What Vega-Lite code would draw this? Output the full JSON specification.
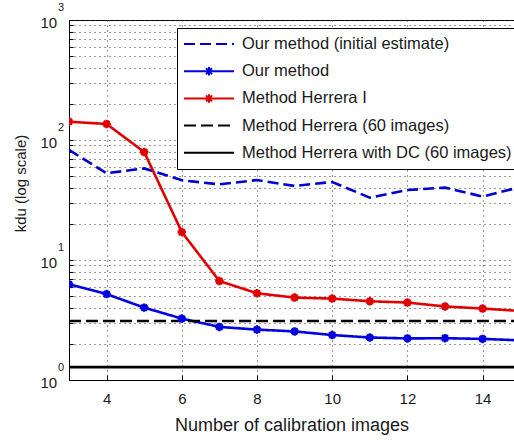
{
  "$schema": "https://vega.github.io/schema/vega-lite/v6.json",
  "width": 445,
  "height": 360,
  "autosize": {"type": "none"},
  "padding": {"left": 69, "top": 20, "right": 0, "bottom": 60},
  "background": "white",
  "config": {
    "font": "Liberation Sans",
    "view": {"stroke": "#000", "strokeWidth": 1},
    "axis": {
      "grid": true,
      "gridDash": [1, 4],
      "gridColor": "#333",
      "gridOpacity": 1,
      "domainColor": "#000",
      "tickColor": "#000",
      "labelColor": "#1a1a1a",
      "titleColor": "#1a1a1a",
      "titleFontWeight": "normal",
      "labelFont": "Liberation Sans",
      "titleFont": "Liberation Sans"
    }
  },
  "datasets": {
    "series": [
      {"n": 3, "series": "Our method (initial estimate)", "kdu": 82.6},
      {"n": 4, "series": "Our method (initial estimate)", "kdu": 52.8},
      {"n": 5, "series": "Our method (initial estimate)", "kdu": 58},
      {"n": 6, "series": "Our method (initial estimate)", "kdu": 46.2},
      {"n": 7, "series": "Our method (initial estimate)", "kdu": 42.7},
      {"n": 8, "series": "Our method (initial estimate)", "kdu": 46.4},
      {"n": 9, "series": "Our method (initial estimate)", "kdu": 41.4},
      {"n": 10, "series": "Our method (initial estimate)", "kdu": 44.7},
      {"n": 11, "series": "Our method (initial estimate)", "kdu": 33.1},
      {"n": 12, "series": "Our method (initial estimate)", "kdu": 38.3},
      {"n": 13, "series": "Our method (initial estimate)", "kdu": 40.1},
      {"n": 14, "series": "Our method (initial estimate)", "kdu": 33.8},
      {"n": 15, "series": "Our method (initial estimate)", "kdu": 40.5},
      {"n": 3, "series": "Our method", "kdu": 6.27},
      {"n": 4, "series": "Our method", "kdu": 5.2},
      {"n": 5, "series": "Our method", "kdu": 4.01},
      {"n": 6, "series": "Our method", "kdu": 3.25},
      {"n": 7, "series": "Our method", "kdu": 2.77},
      {"n": 8, "series": "Our method", "kdu": 2.63},
      {"n": 9, "series": "Our method", "kdu": 2.54},
      {"n": 10, "series": "Our method", "kdu": 2.37},
      {"n": 11, "series": "Our method", "kdu": 2.26},
      {"n": 12, "series": "Our method", "kdu": 2.22},
      {"n": 13, "series": "Our method", "kdu": 2.23},
      {"n": 14, "series": "Our method", "kdu": 2.2},
      {"n": 15, "series": "Our method", "kdu": 2.14},
      {"n": 3, "series": "Method Herrera I", "kdu": 142},
      {"n": 4, "series": "Method Herrera I", "kdu": 136},
      {"n": 5, "series": "Method Herrera I", "kdu": 79.4},
      {"n": 6, "series": "Method Herrera I", "kdu": 17.1},
      {"n": 7, "series": "Method Herrera I", "kdu": 6.68},
      {"n": 8, "series": "Method Herrera I", "kdu": 5.28},
      {"n": 9, "series": "Method Herrera I", "kdu": 4.86},
      {"n": 10, "series": "Method Herrera I", "kdu": 4.77},
      {"n": 11, "series": "Method Herrera I", "kdu": 4.53},
      {"n": 12, "series": "Method Herrera I", "kdu": 4.42},
      {"n": 13, "series": "Method Herrera I", "kdu": 4.1},
      {"n": 14, "series": "Method Herrera I", "kdu": 3.94},
      {"n": 15, "series": "Method Herrera I", "kdu": 3.76},
      {"n": 3, "series": "Method Herrera (60 images)", "kdu": 3.1},
      {"n": 15, "series": "Method Herrera (60 images)", "kdu": 3.1},
      {"n": 3, "series": "Method Herrera with DC (60 images)", "kdu": 1.28},
      {"n": 15, "series": "Method Herrera with DC (60 images)", "kdu": 1.28}
    ],
    "exponents": [
      {"v": 1, "e": "0"},
      {"v": 10, "e": "1"},
      {"v": 100, "e": "2"},
      {"v": 1000, "e": "3"}
    ]
  },
  "layer": [
    {
      "data": {"name": "series"},
      "mark": {"type": "line", "strokeWidth": 2.6, "clip": true},
      "encoding": {
        "x": {
          "field": "n",
          "type": "quantitative",
          "scale": {"domain": [3, 14.835], "nice": false, "zero": false},
          "axis": {
            "values": [4, 6, 8, 10, 12, 14],
            "tickSize": -5,
            "labelFontSize": 15,
            "labelPadding": 16.5,
            "title": "Number of calibration images",
            "titleFontSize": 18,
            "titleBaseline": "alphabetic",
            "titleY": 50
          }
        },
        "y": {
          "field": "kdu",
          "type": "quantitative",
          "scale": {"type": "log", "domain": [1, 1000], "nice": false},
          "axis": {
            "values": [1, 2, 3, 4, 5, 6, 7, 8, 9, 10, 20, 30, 40, 50, 60, 70, 80, 90, 100, 200, 300, 400, 500, 600, 700, 800, 900, 1000],
            "labelExpr": "(datum.value == 1 || datum.value == 10 || datum.value == 100 || datum.value == 1000) ? '10' : ''",
            "tickSize": -4,
            "labelFontSize": 15,
            "labelAlign": "right",
            "labelPadding": 16.3,
            "labelOffset": 2,
            "title": "kdu (log scale)",
            "titleFontSize": 15,
            "titleBaseline": "middle",
            "titleX": -49,
            "titleY": 163
          }
        },
        "color": {
          "field": "series",
          "type": "nominal",
          "scale": {
            "domain": ["Our method (initial estimate)", "Our method", "Method Herrera I", "Method Herrera (60 images)", "Method Herrera with DC (60 images)"],
            "range": ["#0000d0", "#0000e0", "#e00000", "#000000", "#000000"]
          },
          "legend": {
            "orient": "none",
            "legendX": 108,
            "legendY": 8,
            "title": null,
            "padding": 6,
            "strokeColor": "#000",
            "fillColor": "#fff",
            "symbolSize": 2500,
            "symbolStrokeWidth": 2,
            "clipHeight": 20,
            "rowPadding": 7.2,
            "labelOffset": 7,
            "labelFontSize": 16.5,
            "labelFont": "Liberation Sans",
            "labelColor": "#1a1a1a",
            "labelLimit": 400,
            "encoding": {
              "symbols": {
                "shape": {"value": {"expr": "(datum.value === 'Our method' || datum.value === 'Method Herrera I') ? 'M-1,0H1M-0.17,0H0.17M0,-0.17V0.17M-0.12,-0.12L0.12,0.12M-0.12,0.12L0.12,-0.12' : 'M-1,0H1'"}}
              }
            }
          }
        },
        "strokeDash": {
          "field": "series",
          "type": "nominal",
          "scale": {
            "domain": ["Our method (initial estimate)", "Our method", "Method Herrera I", "Method Herrera (60 images)", "Method Herrera with DC (60 images)"],
            "range": [[11, 5], [1, 0], [1, 0], [12, 5], [1, 0]]
          }
        }
      }
    },
    {
      "data": {"name": "series"},
      "transform": [{"filter": "datum.series === 'Our method' || datum.series === 'Method Herrera I'"}],
      "mark": {
        "type": "point",
        "shape": "M-1,0H1M0,-1V1M-0.7,-0.7L0.7,0.7M-0.7,0.7L0.7,-0.7",
        "filled": false,
        "strokeWidth": 2.5,
        "size": 72,
        "opacity": 1,
        "clip": true
      },
      "encoding": {
        "x": {"field": "n", "type": "quantitative"},
        "y": {"field": "kdu", "type": "quantitative"},
        "color": {"field": "series", "type": "nominal", "legend": null}
      }
    },
    {
      "data": {"name": "exponents"},
      "mark": {"type": "text", "dx": -8, "dy": -12, "fontSize": 11, "font": "Liberation Sans", "color": "#1a1a1a", "clip": false},
      "encoding": {
        "x": {"datum": 3, "type": "quantitative"},
        "y": {"field": "v", "type": "quantitative"},
        "text": {"field": "e"}
      }
    }
  ]
}
